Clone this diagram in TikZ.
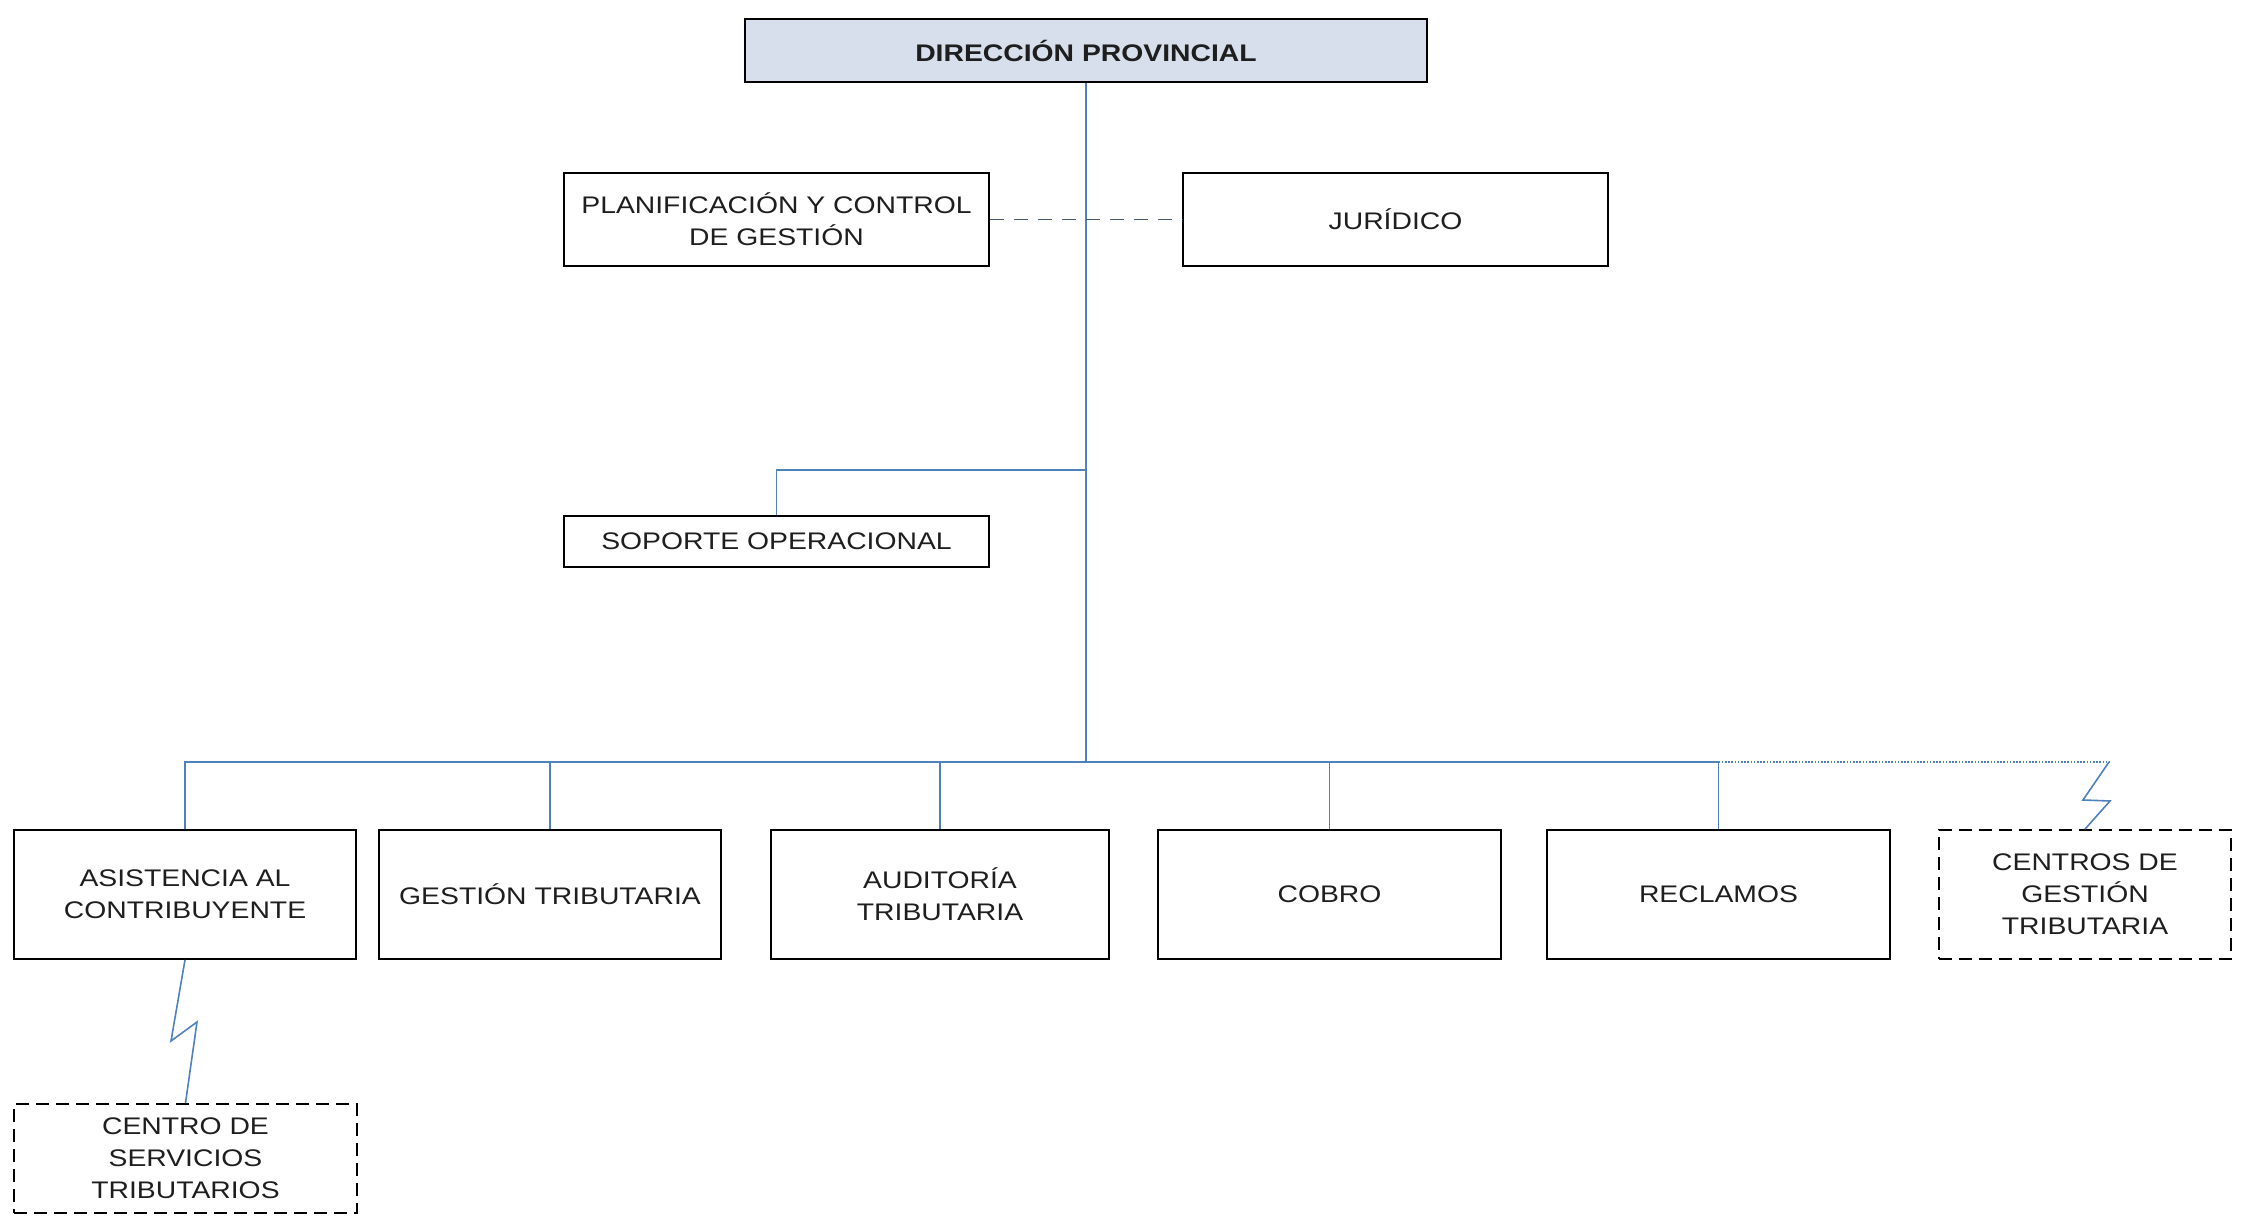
\documentclass[tikz,border=0pt]{standalone}
\usepackage{fontspec}
\setmainfont{Liberation Sans}[FakeStretch=1.18]
\definecolor{linkblue}{RGB}{79,129,189}
\definecolor{staffblue}{RGB}{70,90,120}
\definecolor{topfill}{RGB}{214,223,235}
\definecolor{txt}{RGB}{30,30,30}
\begin{document}
\begin{tikzpicture}[x=0.5pt,y=-0.5pt,
  box/.style={draw=black, line width=0.9pt, align=center, text=txt,
    font=\fontsize{12}{16}\selectfont, inner sep=0pt},
  dbox/.style={box, dash pattern=on 6.5pt off 3.5pt},
  link/.style={draw=linkblue, line width=0.8pt},
  dlink/.style={draw=staffblue, line width=0.8pt, dash pattern=on 7pt off 5pt},
  olink/.style={draw=linkblue, line width=0.6pt, dash pattern=on 0.8pt off 0.8pt}]
\useasboundingbox (0,0) rectangle (2267,1230);

\node[box, fill=topfill, minimum width=341pt, minimum height=31.5pt,
  font=\fontsize{12}{16}\selectfont\bfseries] (dir) at (1086,50.5) {DIRECCIÓN PROVINCIAL};
\node[box, minimum width=212.5pt, minimum height=46.5pt] (plan) at (776.5,219.5) {PLANIFICACIÓN Y CONTROL\\DE GESTIÓN};
\node[box, minimum width=212.5pt, minimum height=46.5pt] (jur) at (1395.5,219.5) {JURÍDICO};
\node[box, minimum width=212.5pt, minimum height=25.5pt] (sop) at (776.5,541.5) {SOPORTE OPERACIONAL};

\node[box, minimum width=171pt, minimum height=64.5pt] (a1) at (185,894.5) {ASISTENCIA AL\\CONTRIBUYENTE};
\node[box, minimum width=171pt, minimum height=64.5pt] (a2) at (550,894.5) {GESTIÓN TRIBUTARIA};
\node[box, minimum width=169pt, minimum height=64.5pt] (a3) at (940,894.5) {AUDITORÍA\\TRIBUTARIA};
\node[box, minimum width=171.5pt, minimum height=64.5pt] (a4) at (1329.5,894.5) {COBRO};
\node[box, minimum width=171.5pt, minimum height=64.5pt] (a5) at (1718.5,894.5) {RECLAMOS};
\node[dbox, minimum width=146pt, minimum height=64.5pt] (a6) at (2085,894.5) {CENTROS DE\\GESTIÓN\\TRIBUTARIA};
\node[dbox, minimum width=171.5pt, minimum height=54.5pt] (cst) at (185.5,1158.5) {CENTRO DE\\SERVICIOS\\TRIBUTARIOS};

\coordinate (bus) at (1086,762);
\coordinate (sopk) at (1086,470);
\coordinate (busend) at (2109,762);

% main trunk
\draw[link] (dir.south) -- (bus);
% staff line
\draw[dlink] (plan.east) -- (jur.west);
% soporte
\draw[link] (sopk) -| (sop.north);
% bus
\draw[link] (a1.north) |- (bus);
\draw[link] (bus) -| (a5.north);
\draw[link] (a2.north) -- (a2.north |- bus);
\draw[link] (a3.north) -- (a3.north |- bus);
\draw[link] (a4.north) -- (a4.north |- bus);
% dotted extension and lightning
\draw[olink] (a5.north |- bus) -- (busend);
\draw[link] (busend) -- (2083,800) -- (2110,801) -- (a6.north);
\draw[link] (a1.south) -- (171,1041) -- (197,1022) -- (cst.north);
\end{tikzpicture}
\end{document}
